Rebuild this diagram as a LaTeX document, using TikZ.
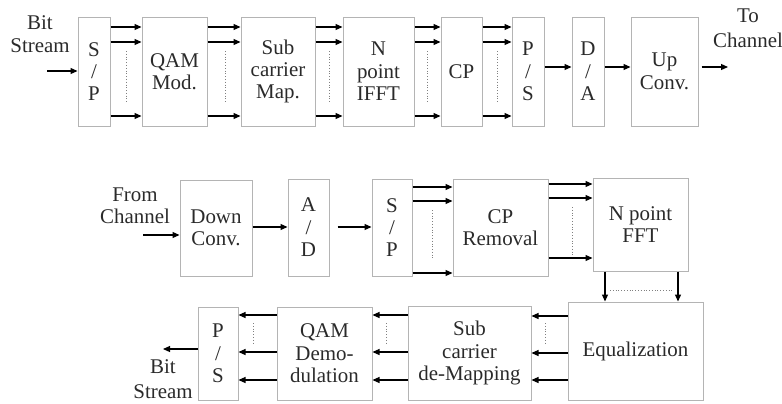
\documentclass[tikz,border=0pt]{standalone}
\usepackage{fontspec}
\setmainfont{Liberation Serif}
\usetikzlibrary{arrows.meta}
\definecolor{boxgray}{HTML}{B4B4B4}
\definecolor{txt}{HTML}{2A2A2A}
\begin{document}
\begin{tikzpicture}[x=1bp,y=-1bp,
  blk/.style={draw=boxgray, line width=1bp, inner sep=0pt, align=center, text=txt, font=\fontsize{21}{22.5}\selectfont},
  lbl/.style={align=center, text=txt, inner sep=0pt, font=\fontsize{21}{22.5}\selectfont},
  arr/.style={-{Triangle[length=7bp,width=6bp]}, line width=1.2bp, black},
  dots/.style={dotted, line width=0.8bp, gray}]
\useasboundingbox (0,0) rectangle (782,403);
% ---------- transmitter ----------
\node[blk, minimum width=32bp, minimum height=109bp] (sp1) at (94,71.5) {S\\/\\P};
\node[blk, minimum width=65bp, minimum height=109bp] (qam) at (174.5,71.5) {QAM\\Mod.};
\node[blk, minimum width=74bp, minimum height=109bp] (scm) at (278,71.5) {Sub\\carrier\\Map.};
\node[blk, minimum width=71bp, minimum height=109bp] (ifft) at (378.5,71.5) {N\\point\\IFFT};
\node[blk, minimum width=41bp, minimum height=109bp] (cp) at (461.5,71.5) {CP};
\node[blk, minimum width=32bp, minimum height=109bp] (ps1) at (528,71.5) {P\\/\\S};
\node[blk, minimum width=32bp, minimum height=109bp] (da) at (588,71.5) {D\\/\\A};
\node[blk, minimum width=67bp, minimum height=109bp] (up) at (664.5,71.5) {Up\\Conv.};
\node[lbl] (bitin) at (40,34) {Bit\\Stream};
\node[lbl, font=\fontsize{21}{25}\selectfont] (toch) at (748,28) {To\\Channel};
\coordinate (txin) at (47,71);
\coordinate (txout) at (728,67);
\draw[arr] (txin) -- (sp1.west |- txin);
\foreach \a/\b in {sp1/qam, qam/scm, scm/ifft, ifft/cp, cp/ps1} {
  \foreach \y in {27,42,116} \draw[arr] (\a.east |- 0,\y) -- (\b.west |- 0,\y);
}
\foreach \x in {126,225,329,427.5,497.5} \draw[dots] (\x,51) -- (\x,102);
\draw[arr] (ps1.east |- 0,67) -- (da.west |- 0,67);
\draw[arr] (da.east |- 0,67) -- (up.west |- 0,67);
\draw[arr, shorten <=3bp] (up.east |- txout) -- (txout);
% ---------- receiver, middle row ----------
\node[blk, minimum width=72bp, minimum height=96bp] (down) at (216,228) {Down\\Conv.};
\node[blk, minimum width=41bp, minimum height=97bp] (ad) at (308.5,227.5) {A\\/\\D};
\node[blk, minimum width=40bp, minimum height=97bp] (sp2) at (392,227.5) {S\\/\\P};
\node[blk, minimum width=95bp, minimum height=97bp] (cpr) at (500.5,227.5) {CP\\Removal};
\node[blk, minimum width=95bp, minimum height=93bp] (fft) at (640.5,224.5) {N point\\FFT};
\node[lbl] (fromch) at (135,206) {From\\Channel};
\coordinate (rxin) at (143,235);
\draw[arr] (rxin) -- (down.west |- rxin);
\draw[arr] (down.east |- 0,227) -- (ad.west |- 0,227);
\draw[arr, shorten <=8bp] (ad.east |- 0,227) -- (sp2.west |- 0,227);
\foreach \y in {187,201,273} \draw[arr] (sp2.east |- 0,\y) -- (cpr.west |- 0,\y);
\foreach \y in {184,198,258} \draw[arr] (cpr.east |- 0,\y) -- (fft.west |- 0,\y);
\draw[dots] (432,210) -- (432,258);
\draw[dots] (572,207) -- (572,255);
% ---------- receiver, bottom row ----------
\node[blk, minimum width=135bp, minimum height=98bp] (eq) at (635.5,351) {Equalization};
\node[blk, minimum width=123bp, minimum height=94bp] (sdm) at (469.5,353) {Sub\\carrier\\de-Mapping};
\node[blk, minimum width=95bp, minimum height=93bp] (qamd) at (324.5,353.5) {QAM\\Demo-\\dulation};
\node[blk, minimum width=40bp, minimum height=93bp] (ps2) at (218,353.5) {P\\/\\S};
\node[lbl, font=\fontsize{21}{25}\selectfont] (bitout) at (163,379) {Bit\\Stream};
\coordinate (rxout) at (163,349);
\foreach \x in {605,678} \draw[arr] (fft.south -| \x,0) -- (eq.north -| \x,0);
\draw[dots] (610,290) -- (673,290);
\foreach \y in {316,353,380} \draw[arr] (eq.west |- 0,\y) -- (sdm.east |- 0,\y);
\foreach \y in {315,352,380} \draw[arr] (sdm.west |- 0,\y) -- (qamd.east |- 0,\y);
\foreach \y in {315,352,380} \draw[arr] (qamd.west |- 0,\y) -- (ps2.east |- 0,\y);
\foreach \x in {545,386,253} \draw[dots] (\x,323) -- (\x,345);
\draw[arr] (ps2.west |- rxout) -- (rxout);
\end{tikzpicture}
\end{document}
